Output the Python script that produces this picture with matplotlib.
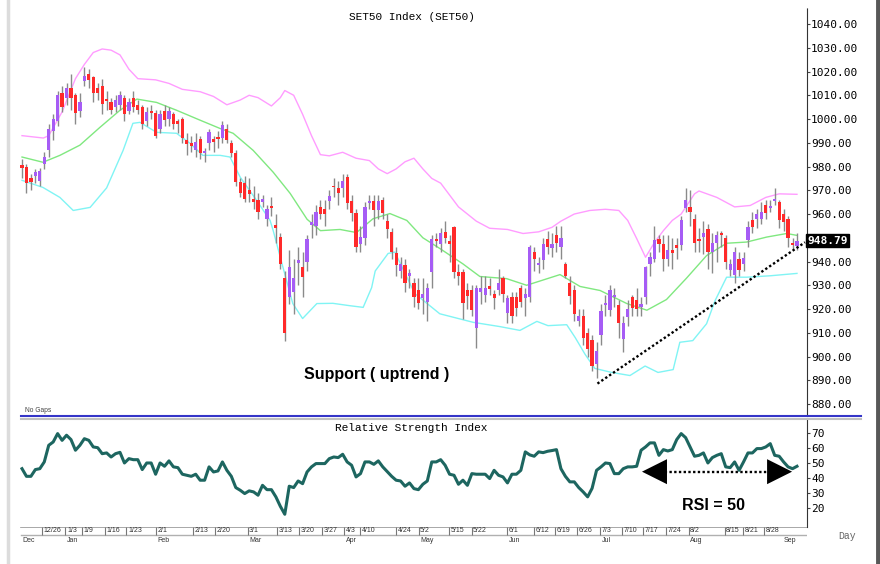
import numpy as np
import matplotlib.pyplot as plt
from matplotlib.lines import Line2D
from matplotlib.transforms import blended_transform_factory

# daily candles (trading day index 0..174)
opens = [980.5, 980, 975, 976, 974, 981, 987, 995, 999, 1011, 1009, 1013, 1010, 1003.5, 1016, 1019, 1017.5, 1013, 1014, 1008.5,
         1007, 1005, 1006, 1009, 1003.5, 1009, 1006, 1005, 999, 1003.5, 1002.5, 996, 1003.5, 1000, 1002, 999, 1000, 991, 990, 987,
         991.5, 985.5, 990, 991.5, 992.5, 992, 996, 990, 985.5, 973.5, 973, 970, 966.5, 966, 965, 958, 963.5, 955.5, 950.5, 933,
         925, 927, 939.5, 937.5, 940, 955.5, 955, 963, 962, 965.5, 972, 971, 971, 975.5, 965.5, 960.5, 947.5, 950, 964.5, 965.5,
         961.5, 966, 957, 952.5, 943.5, 936, 938.5, 934, 931, 928, 924.5, 923, 935.5, 949.5, 947.5, 952.5, 948.5, 954.5, 935.5, 935.5,
         928, 928, 912, 927, 926, 929.5, 926.5, 928, 933, 918.5, 925, 925, 929, 924.5, 925, 944, 938.5, 940.5, 949.5, 945.5,
         951, 946, 939, 931, 928, 915, 917, 910, 907, 897, 909, 921.5, 919.5, 925, 921.5, 907.5, 916.5, 925, 924, 921,
         925, 939, 941, 949.5, 947.5, 941, 945, 947, 947, 962.5, 963, 958, 949.5, 950.5, 953.5, 944, 948, 952, 950, 936.5,
         934.5, 941, 939, 949, 957.5, 958, 958, 964, 962.5, 965.5, 965, 960, 958, 948, 946.5]
closes = [979.5, 973, 973.5, 977.5, 978, 984, 996, 1000, 1010, 1005, 1013, 1009, 1002.5, 1007, 1018, 1016.5, 1011, 1011, 1006.5, 1007.5,
          1004, 1008, 1010, 1002, 1007, 1005, 1004, 998, 1003, 1002.5, 993, 1002, 999.5, 1003.5, 998, 998, 992, 989.5, 988.5, 990.5,
          985.5, 986.5, 994.5, 990.5, 991.5, 997.5, 991, 985.5, 973.5, 969, 966.5, 968.5, 965, 961, 966.5, 962, 962.5, 954, 939, 910,
          937.5, 933, 940.5, 933.5, 949.5, 956.5, 961, 960, 960, 967.5, 971.5, 969, 974, 964.5, 960.5, 946, 950.5, 963, 965.5, 961.5,
          965.5, 960.5, 953.5, 944, 938.5, 939, 931, 935, 925, 922.5, 926.5, 929, 949.5, 948.5, 952, 950, 947.5, 935.5, 934, 922.5,
          925.5, 919.5, 929, 929, 929, 928.5, 924.5, 931, 926.5, 924.5, 917, 920.5, 923, 926.5, 946, 941, 939.5, 947.5, 946, 947.5,
          948, 950, 934, 925.5, 918, 917, 908, 903, 896, 902.5, 919, 922.5, 928, 926, 914, 914, 920, 920.5, 920, 922,
          937.5, 942, 949, 947.5, 941, 945, 943.5, 945.5, 957.5, 966, 961, 948, 948.5, 952, 944, 948, 951, 951, 940, 939,
          944, 936.5, 941.5, 954.5, 954.5, 960, 961, 960.5, 963.5, 966.5, 957.5, 956.5, 950, 947, 948.79]
highs = [983, 981, 977, 979, 979.5, 986, 998, 1002, 1012, 1014, 1015, 1019, 1011, 1011, 1022, 1021, 1018, 1015, 1017, 1012,
         1009, 1010, 1012, 1010, 1009, 1012, 1008, 1006, 1005, 1006, 1004, 1004, 1006, 1005, 1003, 1000, 1001, 994, 993, 994,
         993, 988, 996, 993, 995, 999, 998, 991, 987, 975, 976, 975, 972, 969, 968, 964, 967, 960, 952, 936,
         945, 941, 946, 944, 951, 960, 964, 966, 966, 970, 975, 974, 977, 977, 968, 962, 955, 965, 968, 968,
         968, 967, 960, 954, 946, 942, 941, 937, 933, 933, 933, 931, 951, 952, 954, 957, 951, 955, 939, 937,
         931, 930, 930, 934, 934, 933, 928, 937, 934, 926, 927, 927, 930, 929, 947, 946, 942, 950, 953, 952,
         955, 955, 940, 934, 930, 920, 920, 912, 909, 906, 922, 926, 930, 929, 924, 917, 924, 926, 929, 925,
         938, 944, 955, 951, 951, 951, 950, 950, 959, 971, 970, 960, 954, 957, 956, 952, 953, 953, 951, 941,
         946, 944, 944, 957, 961, 962, 965, 966, 966, 971, 966, 962, 959, 950, 952]
lows = [975, 969, 970, 973, 972, 979, 984, 991, 997, 1003, 1006, 1004, 998, 1001, 1014, 1013, 1007, 1008, 1002, 1004,
        1002, 1003, 1004, 999, 1002, 1003, 1002, 996, 997, 1000, 992, 994, 997, 997, 996, 994, 990, 985, 986, 984,
        983, 982, 987, 986, 988, 990, 990, 984, 972, 967, 965, 965, 962, 958, 963, 955, 959, 948, 937, 906.5,
        922, 918, 930, 925, 936, 950, 951, 958, 955, 962, 967, 964, 967, 962, 957, 944, 944, 947, 962, 955,
        958, 958, 950, 941, 934, 933, 927, 929, 921, 920, 918, 915, 929, 946, 944, 948, 940, 933, 930, 916,
        920, 917, 903.5, 922, 923, 926, 920, 926, 923, 914, 914, 917, 921, 917, 923, 936, 935, 937, 943, 942,
        944, 941, 933, 922, 915, 913, 905, 900, 894, 891, 905, 917, 917, 921, 908, 902, 913, 917, 917, 917,
        922, 934, 940, 944, 936, 938, 937, 941, 945, 961, 955, 944, 944, 943, 937, 935, 940, 946, 937, 934,
        931, 934, 936, 946, 952, 954, 956, 958, 961, 964, 954, 953, 946, 945, 945]
last_price = 948.79

# Bollinger bands, read at knots (day index, value)
upper_i = [0, 4.8, 6, 9, 12, 14, 16, 18, 20, 22, 24, 26, 30, 33, 36, 40, 43, 46, 49, 51, 53, 56, 58, 59, 61, 63, 65, 67, 69, 72,
           75, 78, 80, 82, 84, 86, 88, 90, 92, 94, 98, 102, 105, 109, 112.5, 116, 119, 121, 124, 127.5, 131, 134, 136, 138, 140,
           142, 144, 146, 148, 151, 152, 156, 160, 163.5, 167, 170, 174]
upper_v = [993, 992, 993, 1003, 1017, 1023, 1028, 1029.5, 1029, 1027, 1021, 1017, 1016.5, 1015, 1012.5, 1011.5, 1009.5, 1006, 1008, 1010,
           1009, 1005.5, 1009, 1012, 1010, 1002, 993, 985, 984.5, 986, 983.5, 982.5, 979, 977, 979, 982, 983.5, 979, 975, 973,
           963, 957, 954, 953.5, 951.8, 952.5, 954.4, 957, 960, 961.5, 962, 961.5, 957.3, 949.7, 941.8, 948, 953, 957.3, 960, 968.5,
           969.7, 967, 963, 963.6, 967, 968.5, 968.3]
mid_i = [0, 4.7, 8.5, 13, 17.5, 22, 25.8, 30.2, 34.7, 40, 44.5, 47.4, 51.9, 56.4, 60.2, 64, 67, 71.4, 75.1, 78.8, 82.6, 86.4, 90,
         93.8, 99, 102.8, 108.8, 113.3, 120.8, 125.3, 129.8, 135.8, 140.3, 144.7, 149.2, 153.7, 158.2, 162.7, 167.2, 171.7, 174]
mid_v = [984, 981.8, 984.7, 989, 996.5, 1003.7, 1008.4, 1007, 1003.7, 999.5, 996, 994, 986.8, 977.6, 968.7, 957.8, 953, 953.5, 952.2, 958,
         960.2, 957.3, 950, 945.5, 939, 933.7, 932.8, 930, 934.5, 929.5, 927.8, 922.3, 919.5, 924, 933, 942.5, 947.7, 948.2, 950.3, 951.8,
         951]
lower_i = [0, 4.7, 8.5, 11.5, 15.3, 19, 22.7, 24.9, 26.5, 30.2, 34.7, 37.7, 40.6, 44.5, 46.7, 49, 52.7, 55.7, 56.4, 58.6, 60.8, 63,
           66.2, 69.8, 73.6, 76.6, 78.5, 79.3, 82.2, 83.7, 88.2, 93.8, 101.3, 107.3, 111.8, 115.6, 118.1, 122.3, 124.2, 126.4,
           128.6, 132.4, 136.5, 139.9, 142.8, 146.2, 147.7, 150.6, 153.7, 155.6, 158.2, 162.7, 168, 174]
lower_v = [974.2, 971.2, 967, 961.5, 962.8, 971, 986.8, 998.2, 998.6, 994.4, 994, 989.8, 984.7, 984.7, 984, 975.5, 965.7, 957.3, 953, 937.5,
           922.3, 916, 922.3, 922.4, 921.4, 920.7, 929, 936, 943.4, 944, 926.5, 918, 914.4, 912.6, 911, 914.8, 913, 913.4, 908, 901,
           895, 893.3, 892, 896, 893.3, 894.5, 906, 906.7, 913.8, 923.5, 933.4, 933.4, 934, 935]

# RSI, one value per day
rsi = [46.4, 41.3, 41.3, 45.8, 46.4, 50.9, 62, 64.2, 69.8, 65.3, 68.7, 65.8, 58.7, 62, 66.4, 65.3, 60.9, 60.4, 56.4, 56.9,
       54.2, 56.4, 57.3, 50.2, 53.1, 52.4, 52.4, 45.8, 50.2, 50.2, 42.7, 50.2, 48, 51.6, 47.6, 47.1, 42.7, 42, 41.3, 42.7,
       38.7, 38.7, 47.6, 44.2, 44.9, 50.9, 45.3, 41.3, 33.8, 32, 29.8, 31.6, 30.9, 28.7, 35.3, 32.4, 32.4, 27.6, 21.3, 16,
       34.7, 33.8, 38.2, 36.4, 44.2, 47.6, 49.8, 49.8, 49.8, 53.1, 54.2, 53.8, 56, 50.9, 48.7, 40.9, 43.1, 50.9, 50.9, 49.3,
       51.6, 47.6, 44.5, 41.3, 38.7, 38.2, 34.7, 36.9, 33.1, 32.4, 36, 38.2, 50.9, 50.9, 52.4, 48.7, 42.7, 42, 36, 38.7,
       35.3, 43.1, 42.7, 42.7, 42.7, 39.8, 45.3, 42, 40.9, 36.9, 42.7, 42.7, 45.3, 57.6, 55.6, 54.7, 57.6, 57.1, 58, 58.5,
       59.1, 46.4, 41.3, 37.6, 37.6, 33.8, 30.9, 27.6, 33.3, 45.3, 47.6, 50.2, 49.8, 43.1, 43.1, 46.4, 47.6, 47.6, 48, 58.7,
       60.9, 63.6, 63.6, 55.3, 59.1, 58.2, 59.1, 65.8, 69.8, 67.1, 60.9, 54.7, 55.3, 56.9, 50.2, 53.8, 55.3, 56.4, 47.6, 47.1,
       50.9, 45.3, 50.9, 56.9, 56.9, 59.8, 59.8, 60.9, 63.1, 55.3, 54.7, 50.9, 47.6, 46.4, 48]

# date axis
tick_idx = [4.9, 10.1, 13.9, 18.9, 23.8, 30.5, 38.8, 43.6, 51, 57.7, 62.6, 67.8, 72.7, 76.3, 84.4, 89.4, 96.3, 101.3,
            109.3, 115.4, 120.1, 125, 130.2, 135.1, 139.8, 145, 150, 158.1, 162.2, 167]
tick_lab = ['12/26', '1/3', '1/9', '1/16', '1/23', '2/1', '2/13', '2/20', '3/1', '3/13', '3/20', '3/27', '4/3', '4/10',
            '4/24', '5/2', '5/15', '5/22', '6/1', '6/12', '6/19', '6/26', '7/3', '7/10', '7/17', '7/24', '8/2', '8/15',
            '8/21', '8/28']
month_idx = [0, 10.1, 30.5, 51, 72.7, 89.4, 109.3, 130.2, 150, 171]
month_lab = ['Dec', 'Jan', 'Feb', 'Mar', 'Apr', 'May', 'Jun', 'Jul', 'Aug', 'Sep']

W, H = 880, 564
MONO = 'DejaVu Sans Mono'
CMONO = 'Liberation Mono'
SANS = 'Liberation Sans'


def box(x0, y0, x1, y1):
    return [x0 / W, 1 - y1 / H, (x1 - x0) / W, (y1 - y0) / H]


fig = plt.figure(figsize=(8.8, 5.64), dpi=100)
x_lo, x_hi = -0.45, 176.25

# ---- price panel ----
ax = fig.add_axes(box(20, 8, 807, 414))
n = len(closes)
idx = np.arange(n)
o = np.array(opens)
c = np.array(closes)
up = c >= o
ax.plot(upper_i, upper_v, color='#ff9cff', lw=1, zorder=1)
ax.plot(mid_i, mid_v, color='#80e880', lw=1, zorder=1)
ax.plot(lower_i, lower_v, color='#80f4f4', lw=1, zorder=1)
ax.vlines(idx, lows, highs, color='#8a8a8a', lw=1, zorder=2)
body_h = np.maximum(np.abs(c - o), 0.5)
ax.bar(idx, body_h, bottom=np.minimum(o, c), width=0.72,
       color=np.where(up, '#a65cf5', '#ff2a2a'), zorder=3)

ax.set_xlim(x_lo, x_hi)
ax.set_ylim(875.8, 1046.75)
ax.yaxis.tick_right()
price_ticks = np.arange(880, 1041, 10)
ax.set_yticks(price_ticks)
# the 950 label sits under the last-price tag
ax.set_yticklabels(['' if v == 950 else '%.2f' % v for v in price_ticks], fontfamily=MONO, fontsize=8)
ax.tick_params(axis='y', length=2, pad=1, color='#444444')
ax.set_xticks([])
for s in ['top', 'left', 'bottom']:
    ax.spines[s].set_visible(False)
ax.spines['right'].set_linestyle((0, (1, 1)))
ax.spines['right'].set_color('#333333')

tr = blended_transform_factory(ax.transAxes, ax.transData)
ax.text(1.0, last_price, '948.79', transform=tr, ha='left', va='center', color='white',
        fontfamily=MONO, fontsize=8, fontweight='bold',
        bbox=dict(boxstyle='square,pad=0.12', fc='black', ec='black'))

# support trend line
ax.plot([129.2, 175.8], [888.6, 948.1], color='black', lw=1.7, ls=(0, (1, 1)), zorder=4)

# ---- RSI panel ----
ar = fig.add_axes(box(20, 418, 807, 527))
ar.plot(np.arange(len(rsi)), rsi, color='#1d6660', lw=2.2)
ar.set_xlim(x_lo, x_hi)
ar.set_ylim(7.5, 80.2)
ar.yaxis.tick_right()
ar.set_yticks([20, 30, 40, 50, 60, 70])
ar.set_yticklabels(['20', '30', '40', '50', '60', '70'], fontfamily=MONO, fontsize=8)
ar.tick_params(axis='y', length=2, pad=1, color='#444444')
ar.set_xticks([])
for s in ['top', 'left', 'bottom']:
    ar.spines[s].set_visible(False)
ar.spines['right'].set_linestyle((0, (1, 1)))
ar.spines['right'].set_color('#333333')

# RSI = 50 double arrow
ar.plot([143.2, 170.2], [44.4, 44.4], color='black', lw=1.7, ls=(0, (1, 1)))
for tip, base in [(139.2, 144.8), (172.9, 167.0)]:
    ar.annotate('', xy=(tip, 44.4), xytext=(base, 44.4),
                arrowprops=dict(arrowstyle='-|>,head_length=1.0,head_width=0.5', lw=0,
                                color='black', mutation_scale=18, shrinkA=0, shrinkB=0))

# ---- date strip ----
ad = fig.add_axes(box(20, 527, 807, 545))
ad.set_xlim(x_lo, x_hi)
ad.set_ylim(0, 1)
ad.axis('off')
ad.plot([x_lo + 0.2, x_hi], [1, 1], color='#9a9a9a', lw=1.2)
ad.plot([x_lo + 0.2, x_hi], [0.556, 0.556], color='#b0b0b0', lw=1)
ad.vlines([t - 0.35 for t in tick_idx], 0.556, 1, color='#777777', lw=0.8)
for t, lab in zip(tick_idx, tick_lab):
    ad.text(t, 0.78, lab, fontsize=5, fontfamily=SANS, color='#333333', ha='left', va='center')
for t, lab in zip(month_idx, month_lab):
    ad.text(t, 0.25, lab, fontsize=5, fontfamily=SANS, color='#333333', ha='left', va='center')

# ---- texts ----
fig.text(412 / W, 1 - 17 / H, 'SET50 Index (SET50)', ha='center', va='center', fontfamily=CMONO, fontsize=8)
fig.text(411.5 / W, 1 - 428 / H, 'Relative Strength Index', ha='center', va='center', fontfamily=CMONO, fontsize=8)
fig.text(25 / W, 1 - 411 / H, 'No Gaps', ha='left', va='center', fontfamily=SANS, fontsize=4.8, color='#444444')
fig.text(838 / W, 1 - 536 / H, 'Day', ha='left', va='center', fontfamily=CMONO, fontsize=7, color='#666666')
fig.text(304 / W, 1 - 374 / H, 'Support ( uptrend )', ha='left', va='center', fontfamily=SANS,
         fontsize=11.5, fontweight='bold')
fig.text(682 / W, 1 - 506 / H, 'RSI = 50', ha='left', va='center', fontfamily=SANS,
         fontsize=11.5, fontweight='bold')

# ---- frame lines ----
fig.add_artist(Line2D([21 / W, 861 / W], [1 - 416 / H] * 2, color='#3535c8', lw=1.5))
fig.add_artist(Line2D([21 / W, 861 / W], [1 - 418.5 / H] * 2, color='#c0c0c0', lw=1.5))
fig.add_artist(Line2D([8 / W, 8 / W], [0, 1], color='#dcdcdc', lw=2.5))
fig.add_artist(Line2D([877.5 / W, 877.5 / W], [0, 1], color='#585858', lw=3.5))

fig.savefig('out.png', dpi=100, facecolor='white')
